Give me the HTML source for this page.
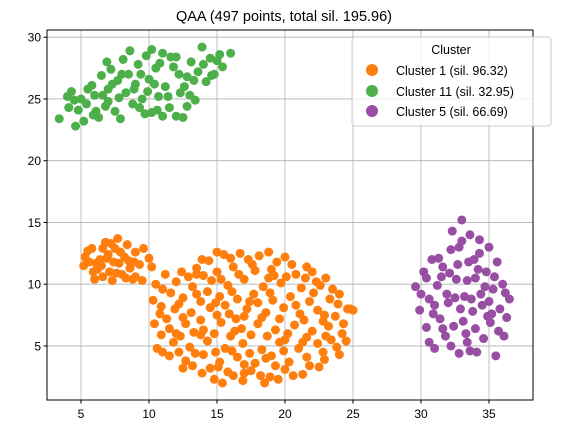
<!DOCTYPE html>
<html><head><meta charset="utf-8"><style>
body{margin:0;background:#fff;}
svg{display:block;font-family:"Liberation Sans","DejaVu Sans",sans-serif;}
</style></head><body>
<svg id="chart" width="561" height="433" viewBox="0 0 561 433" xmlns="http://www.w3.org/2000/svg">
<text x="284" y="21" text-anchor="middle" font-size="14.5">QAA (497 points, total sil. 195.96)</text>
<g id="grid"></g>
<g id="points"></g>
<rect x="47" y="30" width="486" height="370" fill="none" stroke="#000" stroke-width="1"/>
<g id="ticks"></g>
<g>
<rect x="352" y="37" width="199" height="89" rx="3" fill="#fff" fill-opacity="0.8" stroke="#ccc"/>
<text x="451" y="54" text-anchor="middle" font-size="12.5">Cluster</text>
<g><circle cx="372" cy="70" r="6" fill="#ff7f0e"/><text x="396" y="75" font-size="12.5">Cluster 1 (sil. 96.32)</text></g>
<g><circle cx="372" cy="91" r="6" fill="#4daf4a"/><text x="396" y="96" font-size="12.5">Cluster 11 (sil. 32.95)</text></g>
<g><circle cx="372" cy="111" r="6" fill="#984ea3"/><text x="396" y="116" font-size="12.5">Cluster 5 (sil. 66.69)</text></g>
</g>
</svg>
<script>
const xTicks=[5,10,15,20,25,30,35];
const yTicks=[5,10,15,20,25,30];
const cluster1=[[5.2,11.5],[5.3,12.2],[5.6,11.8],[5.8,12.9],[6.0,10.4],[6.2,11.2],[6.4,12.0],[6.6,10.6],[6.8,13.4],[7.0,12.4],[7.1,11.0],[7.3,10.3],[7.5,12.9],[7.7,13.7],[7.8,11.7],[8.0,10.8],[8.2,12.2],[8.4,13.2],[8.6,11.3],[8.8,10.4],[9.0,12.6],[9.3,11.6],[9.6,12.9],[10.0,12.1],[6.5,11.5],[7.4,11.8],[8.5,11.9],[5.9,11.0],[9.0,10.6],[7.9,12.6],
[5.5,12.7],[6.1,11.7],[6.9,12.1],[7.6,10.9],[8.3,10.5],[8.9,11.8],[9.5,10.3],[10.2,11.4],[6.6,12.9],[7.2,13.3],
[15.5,12.4],[16.7,12.5],[18.1,12.3],[19.4,11.8],[14.4,11.9],[17.3,12.0],[20.5,11.6],
[12.4,11.0],[13.5,11.3],[15.0,11.0],[16.2,11.4],[17.8,11.1],[19.0,11.2],[20.8,10.8],[22.0,11.0],[23.0,10.5],[11.2,10.8],
[10.5,10.0],[12.0,10.2],[13.2,9.8],[14.6,10.3],[15.8,9.9],[17.0,10.4],[18.4,9.8],[19.7,10.1],[21.2,9.7],[22.6,9.9],[24.0,9.2],[11.6,9.3],
[10.3,8.7],[12.5,8.9],[13.8,8.6],[15.2,9.0],[16.5,8.8],[17.7,9.2],[19.1,8.7],[20.4,9.0],[21.8,8.6],[23.3,8.8],[24.6,8.0],[14.3,9.4],
[10.8,7.6],[11.9,8.0],[13.1,7.7],[14.5,8.1],[15.9,7.6],[17.2,8.0],[18.6,7.7],[19.9,8.1],[21.1,7.6],[22.4,7.9],[23.7,7.4],[24.8,8.0],[16.4,7.2],
[10.4,6.8],[11.5,6.4],[12.7,6.8],[14.0,6.3],[15.3,6.9],[16.8,6.4],[18.0,6.8],[19.3,6.3],[20.7,6.7],[22.0,6.2],[23.2,6.6],[24.2,6.0],[17.5,5.9],
[10.6,4.8],[11.8,5.3],[13.0,4.9],[14.3,5.4],[15.6,4.8],[16.9,5.2],[18.3,4.7],[19.6,5.3],[21.0,4.8],[22.4,5.2],[23.8,4.9],[13.8,5.9],
[11.5,4.2],[12.7,3.8],[14.0,4.3],[15.2,3.7],[16.5,4.1],[17.8,3.6],[19.0,4.2],[20.3,3.7],[21.6,4.1],[22.9,3.9],[24.0,4.3],
[12.5,3.2],[13.9,2.8],[15.1,3.3],[16.2,2.6],[17.5,3.0],[18.9,2.5],[20.0,3.1],[21.3,2.7],[22.5,3.3],[14.8,2.3],[16.9,2.2],[19.5,2.3],
[15.0,7.5],[18.0,8.5],[20.0,5.5],[13.5,10.8],[21.5,10.5],[17.0,3.5],[19.2,10.7],[12.0,6.0],[22.8,7.0],[16.0,5.8],
[11.0,9.6],[12.9,10.6],[14.0,10.7],[15.3,10.4],[16.6,10.8],[17.6,11.6],[18.8,10.5],[20.1,10.6],[21.6,11.4],[22.3,10.2],[23.5,9.6],
[10.9,8.2],[12.2,8.4],[13.5,9.2],[14.9,8.5],[16.1,9.4],[17.4,8.6],[18.9,9.3],[20.8,8.3],[22.1,9.3],[23.9,8.4],[25.0,7.9],
[11.3,7.2],[12.5,7.3],[13.8,7.1],[15.6,8.3],[17.0,7.4],[18.3,7.3],[19.6,7.2],[21.4,7.1],[22.9,7.5],[24.3,6.8],
[10.9,5.9],[12.3,5.8],[13.3,6.1],[14.8,6.0],[16.3,6.2],[18.7,5.8],[20.2,6.0],[21.6,5.7],[23.0,5.8],[24.5,5.4],
[11.0,4.5],[12.2,4.5],[13.4,4.4],[14.9,4.5],[16.1,4.6],[17.4,4.4],[18.6,4.0],[19.9,4.6],[21.3,5.3],[22.8,4.5],[23.4,5.5],
[13.2,3.4],[14.5,3.2],[15.8,2.9],[17.0,2.8],[18.2,2.6],[19.3,3.4],[20.6,2.6],[21.8,3.4],[15.4,2.0],[18.5,2.0],
[13.9,12.0],[16.0,12.1],[18.8,12.6],[20.0,12.2],[15.0,12.6]];
const cluster11=[[3.4,23.4],[4.1,24.3],[4.3,25.6],[4.6,22.8],[5.0,25.0],[5.2,23.2],[5.4,24.6],[5.8,26.1],[6.0,25.3],[6.3,23.5],[6.5,26.9],[6.8,24.4],[7.0,25.8],[7.2,27.4],[7.5,24.0],[7.7,26.5],[7.9,23.4],[8.1,28.2],[8.3,25.5],[8.5,27.0],[8.8,24.6],[9.0,26.2],[9.2,27.8],[9.5,25.0],[9.8,28.5],[10.0,26.6],[10.2,23.9],[10.5,27.5],[10.7,25.2],[11.0,28.7],[11.2,26.0],[11.5,24.3],[11.8,27.6],[12.0,28.4],[12.3,25.5],[12.5,23.5],[12.8,26.8],[13.1,28.0],[13.4,24.9],[13.6,27.2],[13.9,29.2],[14.2,26.4],[14.5,28.3],[14.8,27.0],[15.2,28.6],[15.4,27.6],[16.0,28.7],[11.0,23.6],[9.7,23.8],[6.9,28.0],[8.6,28.9],[12.8,24.4],[10.2,29.0],
[4.0,25.2],[4.8,24.1],[5.5,25.8],[6.1,24.0],[6.6,25.3],[7.3,26.2],[7.8,25.1],[8.0,27.0],[8.9,25.8],[9.4,27.0],[9.9,25.6],[10.4,26.2],[10.8,27.9],[11.4,25.2],[11.6,28.4],[12.2,27.0],[12.6,26.0],[13.0,25.3],[13.3,26.5],[14.0,27.8],[14.6,26.9],[15.0,28.1],[7.0,24.8],[9.3,24.3],[10.6,24.1],[12.0,23.6],[5.9,23.7],[4.5,24.9]];
const cluster5=[[29.6,9.8],[29.9,7.9],[30.2,11.0],[30.4,6.5],[30.6,8.8],[30.8,12.0],[31.0,4.8],[31.2,9.9],[31.4,7.2],[31.6,11.4],[31.8,5.8],[32.0,8.5],[32.2,12.8],[32.4,6.6],[32.6,10.4],[32.8,4.4],[33.0,13.5],[33.0,15.2],[33.2,9.0],[33.3,6.0],[33.5,11.8],[33.6,14.0],[33.8,7.8],[34.0,10.5],[34.1,4.5],[34.3,12.5],[34.5,8.3],[34.6,5.6],[34.8,11.0],[35.0,13.0],[35.1,6.9],[35.3,9.6],[35.5,4.2],[35.6,11.8],[35.8,8.0],[36.0,10.0],[36.1,5.8],[36.3,7.3],[36.5,8.8],[35.2,7.6],[32.9,8.0],[31.5,10.6],[33.9,12.0],[30.6,5.3],[32.3,14.3],[34.7,9.8],[31.9,9.2],[33.4,5.3],
[30.0,9.2],[30.4,10.5],[31.0,8.3],[31.3,12.1],[31.6,6.4],[32.1,10.9],[32.5,8.9],[32.7,11.6],[33.1,7.0],[33.4,10.3],[33.7,8.8],[34.0,6.4],[34.2,11.2],[34.4,9.2],[34.9,7.4],[35.4,10.6],[35.7,6.2],[36.2,9.3],[32.2,5.0],[33.6,4.6],[34.3,13.6],[32.8,13.0],[35.0,8.6],[30.9,7.6]];

const NS="http://www.w3.org/2000/svg";
function sx(v){return 13+v*13.6;}
function sy(v){return 407.7-v*12.35;}
const grid=document.getElementById('grid'),ticks=document.getElementById('ticks'),pts=document.getElementById('points');
function mk(tag,attrs,parent){const e=document.createElementNS(NS,tag);for(const k in attrs)e.setAttribute(k,attrs[k]);parent.appendChild(e);return e;}
xTicks.forEach(t=>{
  const l=mk('line',{x1:sx(t),x2:sx(t),y1:30,y2:400,stroke:'#b0b0b0','stroke-width':0.8},grid);
  
  
  mk('line',{x1:sx(t),x2:sx(t),y1:400,y2:403.5,stroke:'#000'},ticks);
  const tx=mk('text',{x:sx(t),y:418,'text-anchor':'middle','font-size':12},ticks);
  tx.textContent=t;
  
  
});
yTicks.forEach(t=>{
  const l=mk('line',{x1:47,x2:533,y1:sy(t),y2:sy(t),stroke:'#b0b0b0','stroke-width':0.8},grid);
  
  
  mk('line',{x1:43.5,x2:47,y1:sy(t),y2:sy(t),stroke:'#000'},ticks);
  const tx=mk('text',{x:41,y:sy(t)+4.5,'text-anchor':'end','font-size':12},ticks);
  tx.textContent=t;
  
  
});
function draw(arr,color,name){
  arr.forEach(p=>{
    const c=mk('circle',{cx:sx(p[0]),cy:sy(p[1]),r:4.5,fill:color},pts);
    
    
  });
}
draw(cluster1,'#ff7f0e','point-cluster-1');
draw(cluster11,'#4daf4a','point-cluster-11');
draw(cluster5,'#984ea3','point-cluster-5');
</script>
</body></html>
